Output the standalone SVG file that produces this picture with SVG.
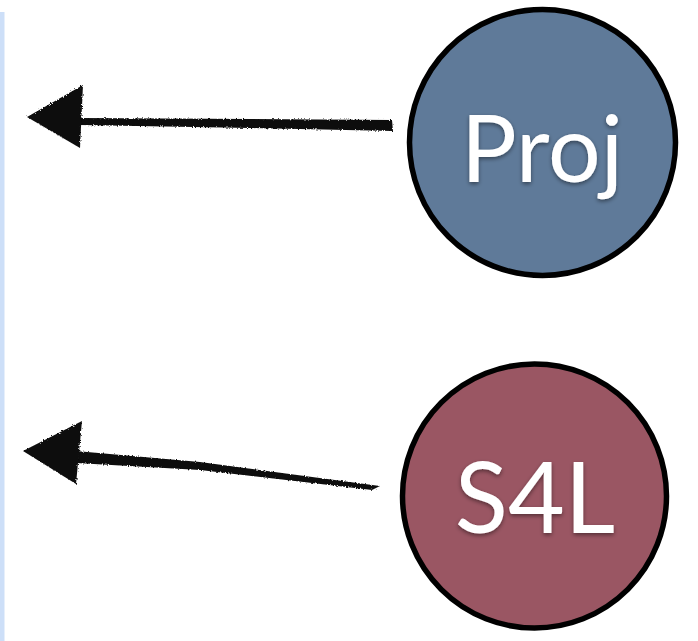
<svg xmlns="http://www.w3.org/2000/svg" width="698" height="641" viewBox="0 0 698 641">
  <style>
    .node { stroke: #000; stroke-width: 5.5; }
    .label { font-family: Lato, "Liberation Sans", sans-serif; fill: #fff; text-anchor: middle; filter: url(#shadow); }
    .ink { fill: #111; filter: url(#rough); }
  </style>
  <defs>
    <filter id="shadow" x="-20%" y="-20%" width="140%" height="140%">
      <feDropShadow dx="0" dy="2" stdDeviation="2" flood-color="#000" flood-opacity="0.45"/>
    </filter>
    <filter id="rough" x="-10%" y="-20%" width="120%" height="140%">
      <feTurbulence type="fractalNoise" baseFrequency="0.6" numOctaves="2" seed="3" result="n"/>
      <feDisplacementMap in="SourceGraphic" in2="n" scale="3"/>
    </filter>
  </defs>
  <rect x="0" y="12" width="4.5" height="629" fill="#cddff8"/>
  <g id="connectors">
    <g id="arrow-proj">
      <polygon class="ink" points="80,118 250,119 392,120 393,131 250,128 80,125"/>
      <polygon class="ink" points="27,117 83,85 80,148"/>
    </g>
    <g id="arrow-s4l">
      <polygon class="ink" points="76,451 200,462 380,486 372,490 200,470 76,463"/>
      <polygon class="ink" points="23,451 82,421 76,484"/>
    </g>
  </g>
  <g id="node-proj">
    <circle class="node" cx="542.5" cy="142.5" r="133" fill="#5f7a99"/>
    <text class="label" x="542" y="182" font-size="93">Proj</text>
  </g>
  <g id="node-s4l">
    <circle class="node" cx="534.5" cy="496" r="132" fill="#9a5663"/>
    <text class="label" x="535" y="533" font-size="98">S4L</text>
  </g>
</svg>
